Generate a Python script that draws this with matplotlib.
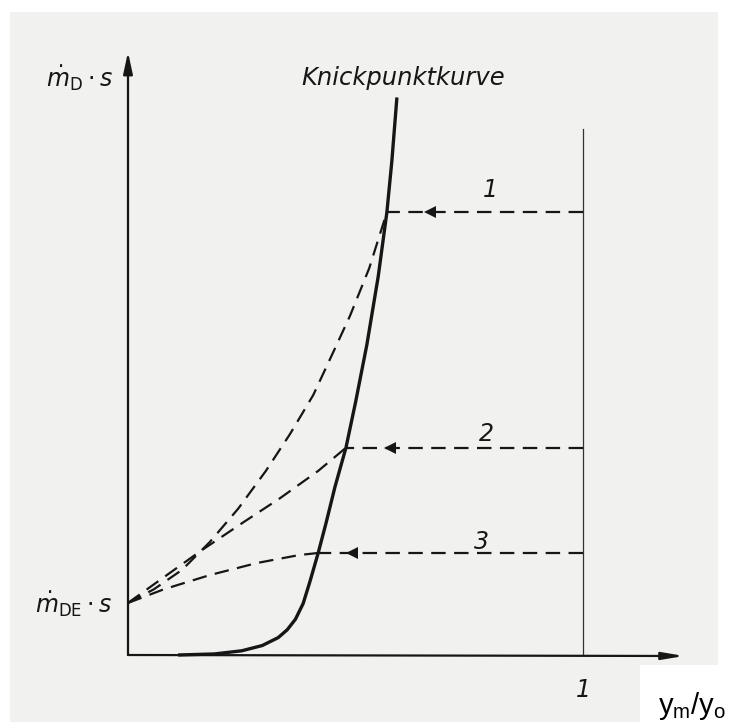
import numpy as np
import matplotlib
matplotlib.use("Agg")
import matplotlib.pyplot as plt
from matplotlib.patches import Rectangle

# ---- data (x = y_m/y_o, y = m_D * s, arbitrary units) ----
knick_x = [0.110, 0.19, 0.25, 0.295, 0.33, 0.35, 0.368, 0.385, 0.40, 0.418,
           0.435, 0.455, 0.479, 0.50, 0.525, 0.55, 0.569, 0.58, 0.591]
knick_y = [0.0, 0.002, 0.008, 0.018, 0.033, 0.048, 0.068, 0.098, 0.14, 0.194,
           0.25, 0.32, 0.394, 0.48, 0.59, 0.72, 0.842, 0.94, 1.06]

mde_s = 0.099  # start value on y-axis

c1_x = [0.0, 0.057, 0.119, 0.180, 0.242, 0.303, 0.356, 0.407, 0.448, 0.488, 0.530, 0.569]
c1_y = [mde_s, 0.125, 0.162, 0.215, 0.278, 0.350, 0.420, 0.494, 0.570, 0.645, 0.735, 0.842]
c2_x = [0.0, 0.079, 0.160, 0.253, 0.334, 0.418, 0.479]
c2_y = [mde_s, 0.148, 0.198, 0.252, 0.298, 0.350, 0.394]
c3_x = [0.0, 0.079, 0.180, 0.284, 0.376, 0.418]
c3_y = [mde_s, 0.125, 0.152, 0.175, 0.190, 0.194]

h_levels = [0.842, 0.394, 0.194]      # horizontal feed lines 1,2,3
h_start = [0.569, 0.479, 0.418]       # intersection with Knickpunktkurve
arrow_x = [0.664, 0.576, 0.492]       # arrowhead positions
labels = ["1", "2", "3"]
x_one = 1.0
right_top = 1.0

# ---- figure with pixel-mapped data coords ----
W, H = 733, 722
fig = plt.figure(figsize=(W / 100, H / 100), dpi=100)
fig.patch.set_facecolor("white")
ax = fig.add_axes([0, 0, 1, 1])
x0p, y0p, sx, sy = 128, 655, 455, 526
ax.set_xlim(-x0p / sx, (W - x0p) / sx)
ax.set_ylim((y0p - H) / sy, y0p / sy)
ax.axis("off")

def px(x, y):
    return ((x - x0p) / sx, (y0p - y) / sy)

# paper background
bx, by = px(10, 722)
ax.add_patch(Rectangle((bx, by), 708 / sx, 710 / sy, facecolor="#f1f1ef", edgecolor="none", zorder=0))
wx, wy = px(640, 722)
ax.add_patch(Rectangle((wx, wy), 100 / sx, 57 / sy, facecolor="white", edgecolor="none", zorder=0.5))

ink = "#161616"

# axes
ax.annotate("", xy=px(128, 52), xytext=(0, 0),
            arrowprops=dict(arrowstyle="-|>,head_length=1.3,head_width=0.28", lw=1.6, color=ink, shrinkA=0, shrinkB=0))
ax.annotate("", xy=px(684, 656), xytext=(0, 0),
            arrowprops=dict(arrowstyle="-|>,head_length=1.3,head_width=0.22", lw=1.6, color=ink, shrinkA=0, shrinkB=0))

# right vertical line at x = 1
ax.plot([x_one, x_one], [0, right_top], color="#333333", lw=0.9)

# Knickpunktkurve
ax.plot(knick_x, knick_y, color=ink, lw=2.4, solid_capstyle="butt", solid_joinstyle="round")

# dashed curves
for cx, cy in [(c1_x, c1_y), (c2_x, c2_y), (c3_x, c3_y)]:
    ax.plot(cx, cy, color=ink, lw=1.6, dashes=(6.5, 3.8))

# horizontal dashed lines with arrows
for lev, xs, axx in zip(h_levels, h_start, arrow_x):
    ax.plot([x_one, xs], [lev, lev], color=ink, lw=1.6, dashes=(6.5, 3.8))
    ax.plot([axx], [lev], marker="<", markersize=9, color=ink, markeredgewidth=0)

# labels on lines
lab_pos = [(490, 190), (486, 434), (481, 542)]
for lab, (lx, ly) in zip(labels, lab_pos):
    ax.text(*px(lx, ly), lab, fontsize=17, style="italic", color=ink,
            ha="center", va="center", family="DejaVu Sans")

ax.text(*px(583, 690), "1", fontsize=17, style="italic", color=ink,
        ha="center", va="center", family="DejaVu Sans")

ax.text(*px(403, 78), "Knickpunktkurve", fontsize=17.5, style="italic", color=ink,
        ha="center", va="center", family="DejaVu Sans")

ax.text(*px(80, 78), r"$\dot{m}_{\mathrm{D}}\cdot s$", fontsize=17, color=ink,
        ha="center", va="center")
ax.text(*px(74, 604), r"$\dot{m}_{\mathrm{DE}}\cdot s$", fontsize=17, color=ink,
        ha="center", va="center")

ax.text(*px(692, 706), r"$\mathregular{y_m/y_o}$", fontsize=21, color="black",
        ha="center", va="center", family="Liberation Sans")

fig.savefig("out.png", dpi=100, facecolor=fig.get_facecolor())
